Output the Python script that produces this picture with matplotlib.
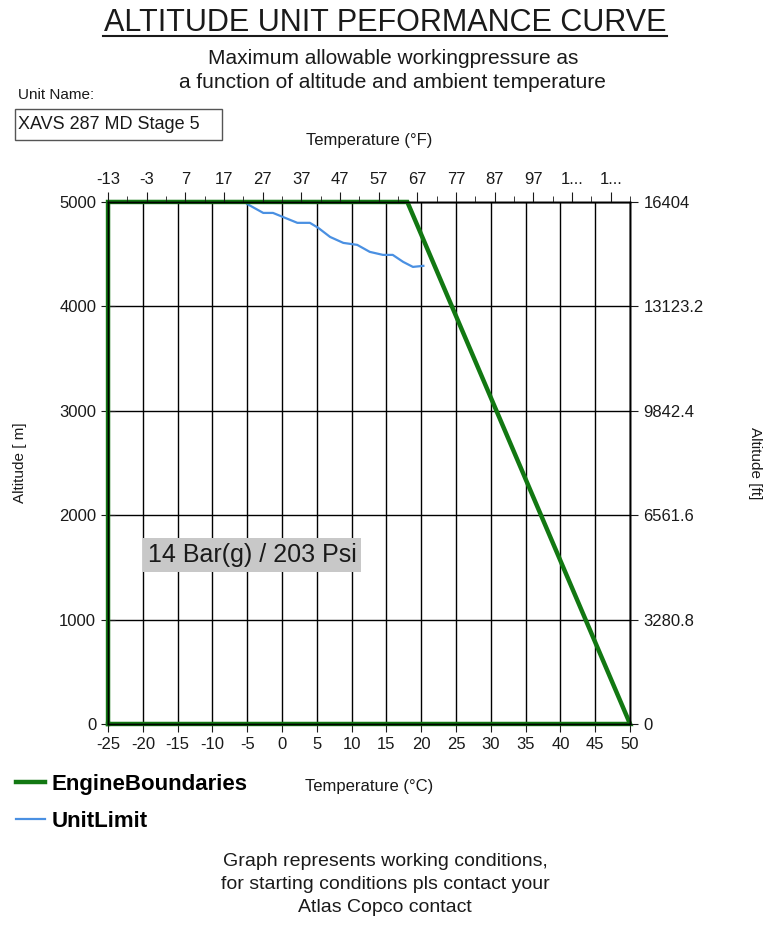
import matplotlib
matplotlib.use("Agg")
import matplotlib.pyplot as plt
from matplotlib.ticker import FixedLocator
from matplotlib.patches import Rectangle

plt.rcParams['font.family'] = ['Liberation Sans', 'DejaVu Sans']
plt.rcParams['axes.unicode_minus'] = False

# Data
temp_c_ticks = list(range(-25, 55, 5))
alt_m_ticks = [0, 1000, 2000, 3000, 4000, 5000]
alt_ft_labels = ["0", "3280.8", "6561.6", "9842.4", "13123.2", "16404"]
temp_f_ticks = list(range(-13, 120, 10))

engine_t = [-25, -25, 18, 50, -25]
engine_alt = [0, 5000, 5000, 0, 0]

unit_t = [-5.0, -2.7, -1.3, 0.1, 2.2, 4.0, 5.2, 6.9, 8.8, 10.8, 12.6, 14.5, 15.9, 17.4, 18.8, 20.3]
unit_alt = [4980, 4895, 4895, 4857, 4800, 4800, 4752, 4665, 4608, 4589, 4522, 4493, 4493, 4426, 4378, 4388]

green = '#127812'
blue = '#4a90e2'
txt = '#1a1a1a'

fig = plt.figure(figsize=(7.7, 9.35), dpi=100)
ax = fig.add_axes([0.1403, 0.2257, 0.678, 0.5583])

ax.set_xlim(-25, 50)
ax.set_ylim(0, 5000)
ax.set_xticks(temp_c_ticks)
ax.set_yticks(alt_m_ticks)
ax.grid(True, color='black', linewidth=1.0)
ax.tick_params(axis='both', labelsize=12, colors=txt, length=6)
ax.tick_params(axis='y', direction='inout', length=10)

ax.plot(engine_t, engine_alt, color=green, linewidth=3.2, label='EngineBoundaries',
        solid_joinstyle='miter', clip_on=False, zorder=5)
ax.plot(unit_t, unit_alt, color=blue, linewidth=1.6, label='UnitLimit', zorder=4)

ax.text(-19.3, 1620, '14 Bar(g) / 203 Psi', fontsize=18, color=txt, ha='left', va='center',
        bbox=dict(boxstyle='square,pad=0.2', facecolor='#c8c8c8', edgecolor='none'), zorder=6)

ax.set_ylabel('Altitude [ m]', fontsize=11, color=txt)
ax.yaxis.set_label_coords(-0.155, 0.5)
ax.set_xlabel('Temperature (°C)', fontsize=12, color=txt)
ax.xaxis.set_label_coords(0.5, -0.105)

# right axis in ft
axr = ax.twinx()
axr.set_ylim(0, 5000)
axr.set_yticks(alt_m_ticks)
axr.set_yticklabels(alt_ft_labels)
axr.tick_params(axis='y', labelsize=12, colors=txt, length=6)
axr.set_ylabel('Altitude [ft]', fontsize=11, color=txt, rotation=270, va='center')
axr.yaxis.set_label_coords(1.24, 0.5)

# top axis in F
axt = ax.twiny()
axt.set_xlim(-25 * 9 / 5 + 32, 50 * 9 / 5 + 32)
axt.set_xticks(temp_f_ticks)
axt.set_xticklabels([str(v) if v < 100 else '1...' for v in temp_f_ticks])
axt.xaxis.set_minor_locator(FixedLocator([v + 5 for v in temp_f_ticks]))
axt.tick_params(axis='x', which='major', labelsize=12, colors=txt, length=7)
axt.tick_params(axis='x', which='minor', length=4, colors=txt)
axt.set_xlabel('Temperature (°F)', fontsize=12, color=txt)
axt.xaxis.set_label_coords(0.5, 1.109)

for a in (ax, axr, axt):
    for s in a.spines.values():
        s.set_color('black')
        s.set_linewidth(1.0)

# titles
fig.text(0.5, 0.975, 'ALTITUDE UNIT PEFORMANCE CURVE', ha='center', va='center',
         fontsize=22, color=txt)
fig.add_artist(plt.Line2D([0.134, 0.866], [0.9615, 0.9615], color=txt, linewidth=1.5))
fig.text(0.51, 0.9247, 'Maximum allowable workingpressure as\na function of altitude and ambient temperature',
         ha='center', va='center', fontsize=15, color=txt, linespacing=1.35)

fig.text(0.023, 0.898, 'Unit Name:', ha='left', va='center', fontsize=11, color=txt)
fig.add_artist(Rectangle((0.0195, 0.8503), 0.269, 0.0332, transform=fig.transFigure,
                         facecolor='white', edgecolor='#555555', linewidth=1))
fig.text(0.0234, 0.8668, 'XAVS 287 MD Stage 5', ha='left', va='center', fontsize=13, color=txt)

# legend
leg = ax.legend(loc='upper left', bbox_to_anchor=(-0.215, -0.058), frameon=False,
                prop={'weight': 'bold', 'size': 16}, handlelength=1.3, handletextpad=0.3,
                labelspacing=0.7)

fig.text(0.5, 0.054, 'Graph represents working conditions,\nfor starting conditions pls contact your\nAtlas Copco contact',
         ha='center', va='center', fontsize=14, color=txt, linespacing=1.45)

fig.savefig('out.png', dpi=100, facecolor='white')
